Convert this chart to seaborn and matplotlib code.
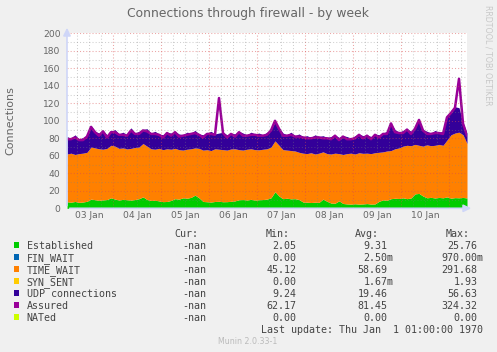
import numpy as np
import matplotlib
matplotlib.use("Agg")
import matplotlib.pyplot as plt
from matplotlib.patches import Rectangle, FancyArrowPatch
import seaborn as sns

# ---------------- data ----------------
# sample times: hours after 03 Jan 00:00 (one sample every 2 hours)
hours = np.arange(101) * 2 + 0.85

established = [7.5, 7, 7.8, 6.8, 7.2, 8, 10.5, 9.8, 9.2, 9.6,
               10, 12, 10.5, 9.5, 10.2, 9.8, 9.4, 10, 11, 13,
               10, 9, 9.2, 8.5, 7.6, 7.8, 9, 11, 10.5, 12,
               11.5, 12.5, 15, 12, 7.8, 7.5, 7.2, 7.8, 8, 7.5,
               7.6, 8, 8.5, 9.8, 10, 9.5, 10.2, 9.4, 9.8, 10,
               10.5, 12, 19, 14, 11, 11.5, 10.8, 11, 10, 7.2,
               7, 6.6, 7, 6.8, 10.5, 8, 6, 5.8, 8.5, 5.5,
               5, 4.8, 5.2, 4.8, 5, 5.4, 4.8, 5, 8, 9.6,
               9.2, 11, 11.5, 11.2, 12, 11, 11.8, 16.5, 17, 14,
               12, 12.5, 11.8, 12.4, 12, 13, 11.6, 12.2, 12, 12.4, 11.8]
fin_wait = [0.0] * 101
time_wait = [54.5, 56, 53.7, 55.7, 55.8, 56, 59.5, 59.2, 58.8, 57.9,
             58.5, 60, 60.5, 59, 58.8, 58, 59.1, 59.5, 59, 61,
             61, 59, 58.3, 60, 59.4, 60.2, 58.5, 57.5, 56.5, 54.5,
             56, 55.5, 54, 56.5, 58.7, 59.5, 58.8, 60.2, 59.5, 59.5,
             58.9, 59.8, 59.5, 57.2, 56.5, 58, 57.8, 57.6, 57, 57.5,
             57.5, 58, 58, 58, 56, 55, 55.2, 54.5, 54, 55.8,
             55.5, 56.9, 55, 56.2, 54, 54.5, 56, 57.2, 54, 56,
             57.5, 58.2, 56.8, 58.7, 57.8, 57.6, 57.7, 58.5, 56, 54.9,
             56.3, 55, 56.5, 57.8, 59, 61, 59.7, 56.5, 55, 57,
             60.5, 59, 60.2, 60.6, 60, 65, 72.4, 73.8, 75, 71.6, 62.2]
syn_sent = [0.0] * 101
udp = [20, 17, 22.5, 16.5, 18, 19, 25, 19, 18, 21.5,
       15.5, 16, 19, 16.5, 18, 16.2, 23.5, 16.5, 18, 16,
       20, 18, 20.5, 16.5, 17, 19, 18.5, 19.5, 18, 17.5,
       19.5, 18, 20, 16.5, 17.5, 19, 22, 17, 18.5, 20,
       17.5, 18.2, 17, 21, 19.5, 16.5, 19, 18, 19.2, 16.5,
       19, 20, 22, 20, 19, 17.5, 21, 17.5, 21, 19,
       20.5, 17.5, 22, 19, 18.5, 18.5, 20, 21, 18.5, 21.5,
       19.5, 17, 21, 21.5, 20.2, 21, 19.5, 21.5, 20, 21.5,
       22.5, 31, 22, 18, 18, 19, 16.5, 19, 29, 19,
       15.5, 14.5, 17, 14, 16, 26, 28, 30, 28, 14, 12]
assured = [79, 79, 81, 78, 78, 82, 93, 87, 83, 88,
           81, 87, 87, 84, 84, 83, 89, 85, 85, 89,
           88, 85, 85, 84, 81, 86, 83, 87, 82, 83,
           84, 85, 86, 84, 81, 85, 85, 84, 126, 86,
           81, 85, 82, 87, 83, 83, 84, 84, 83, 83,
           84, 89, 100, 91, 83, 83, 84, 82, 82, 81,
           80, 80, 81, 81, 80, 80, 79, 83, 78, 82,
           79, 79, 80, 84, 80, 83, 79, 84, 81, 85,
           85, 97, 87, 86, 86, 90, 85, 91, 101, 89,
           85, 85, 86, 86, 85, 104, 109, 115, 148, 97, 83]
nated = [0.0] * 101

day_labels = ["03 Jan", "04 Jan", "05 Jan", "06 Jan",
              "07 Jan", "08 Jan", "09 Jan", "10 Jan"]
y_ticks = [0, 20, 40, 60, 80, 100, 120, 140, 160, 180, 200]

names = ["Established", "FIN_WAIT", "TIME_WAIT", "SYN_SENT",
         "UDP connections", "Assured", "NATed"]
cur_vals = ["-nan", "-nan", "-nan", "-nan", "-nan", "-nan", "-nan"]
min_vals = ["2.05", "0.00", "45.12", "0.00", "9.24", "62.17", "0.00"]
avg_vals = ["9.31", "2.50m", "58.69", "1.67m", "19.46", "81.45", "0.00"]
max_vals = ["25.76", "970.00m", "291.68", "1.93", "56.63", "324.32", "0.00"]

colors = ["#00CC00", "#0066B3", "#FF8000", "#FFCC00",
          "#330099", "#990099", "#CCFF00"]

# ---------------- figure ----------------
sns.set_style("white")
plt.rcParams["font.family"] = ["DejaVu Sans"]

W, H = 497, 352
fig = plt.figure(figsize=(W / 100, H / 100), dpi=100, facecolor="#F0F0F0")


def fx(px):
    return px / W


def fy(py):
    return 1 - py / H


L, R, T, B = 67, 467, 33.3, 208.3
ax = fig.add_axes([fx(L), fy(B), (R - L) / W, (B - T) / H])
ax.set_facecolor("white")

ax.stackplot(hours, established, fin_wait, time_wait, syn_sent, udp,
             colors=colors[:5], linewidth=0, zorder=2)
sns.lineplot(x=hours, y=assured, color=colors[5], linewidth=1.8, ax=ax,
             zorder=3)
sns.lineplot(x=hours, y=nated, color=colors[6], linewidth=0.72, ax=ax,
             zorder=3)

ax.set_xlim(0.85, 200.85)
ax.set_ylim(0, 200)

# grid (drawn over the data, like rrdtool)
minor_c = (0.5, 0.5, 0.5, 0.37)
major_c = (0.85, 0.3, 0.3, 0.5)
dots = (0, (1, 2))
for h in range(6, 201, 6):
    c = major_c if h % 24 == 0 else minor_c
    ax.axvline(h, color=c, lw=0.75, ls=dots, zorder=5)
for v in range(10, 201, 10):
    c = major_c if v % 20 == 0 else minor_c
    ax.axhline(v, color=c, lw=0.75, ls=dots, zorder=5)

for s in ax.spines.values():
    s.set_visible(False)

ax.set_yticks(y_ticks)
ax.set_yticklabels([str(v) for v in y_ticks])
ax.set_xticks([12 + 24 * k for k in range(len(day_labels))])
ax.set_xticklabels(day_labels)
ax.tick_params(axis="y", length=0, pad=4.7, labelsize=6.6,
               labelcolor="#666666")
ax.tick_params(axis="x", length=0, pad=2.0, labelsize=6.6,
               labelcolor="#666666")
ax.set_xlabel("")
ax.set_ylabel("")

# axes with arrows
arrow_c = "#CFD6F8"
astyle = "-|>,head_length=0.45,head_width=0.22"
fig.add_artist(FancyArrowPatch(
    (fx(L), fy(B)), (fx(474), fy(B)), transform=fig.transFigure,
    arrowstyle=astyle, color=arrow_c, lw=1.2, mutation_scale=10))
fig.add_artist(FancyArrowPatch(
    (fx(L), fy(B)), (fx(L), fy(25)), transform=fig.transFigure,
    arrowstyle=astyle, color=arrow_c, lw=1.2, mutation_scale=10))

# titles
fig.text(fx(248), fy(13.5), "Connections through firewall - by week",
         ha="center", va="center", fontsize=8.9, color="#666666")
fig.text(fx(10), fy(120.5), "Connections", rotation=90, ha="center",
         va="center", fontsize=8, color="#666666")
fig.text(fx(488), fy(5), "RRDTOOL / TOBI OETIKER", rotation=270,
         ha="center", va="top", fontsize=5.7, color="#C8C8C8")

# legend table
mono = "DejaVu Sans Mono"
lfs = 7.2
tc = "#444444"
base0 = 236.8
step = 12.07
fig.text(fx(198.3), fy(base0), "Cur:", ha="right", va="baseline",
         family=mono, fontsize=lfs, color=tc)
fig.text(fx(289.3), fy(base0), "Min:", ha="right", va="baseline",
         family=mono, fontsize=lfs, color=tc)
fig.text(fx(379.3), fy(base0), "Avg:", ha="right", va="baseline",
         family=mono, fontsize=lfs, color=tc)
fig.text(fx(469.3), fy(base0), "Max:", ha="right", va="baseline",
         family=mono, fontsize=lfs, color=tc)

for k, name in enumerate(names):
    yb = base0 + step * (k + 1)
    fig.patches.append(Rectangle((fx(13.5), fy(yb - 1.2)), 5.8 / W, 5.8 / H,
                                 transform=fig.transFigure,
                                 facecolor=colors[k], edgecolor="none"))
    fig.text(fx(26.7), fy(yb), name, ha="left", va="baseline",
             family=mono, fontsize=lfs, color=tc)
    fig.text(fx(206), fy(yb), cur_vals[k], ha="right", va="baseline",
             family=mono, fontsize=lfs, color=tc)
    fig.text(fx(296.7), fy(yb), min_vals[k], ha="right", va="baseline",
             family=mono, fontsize=lfs, color=tc)
    a = avg_vals[k]
    fig.text(fx(387.3 + (6 if a.endswith("m") else 0)), fy(yb), a,
             ha="right", va="baseline", family=mono, fontsize=lfs, color=tc)
    m = max_vals[k]
    fig.text(fx(477.3 + (6 if m.endswith("m") else 0)), fy(yb), m,
             ha="right", va="baseline", family=mono, fontsize=lfs, color=tc)

fig.text(fx(483.3), fy(base0 + step * 8), "Last update: Thu Jan  1 01:00:00 1970",
         ha="right", va="baseline", family=mono, fontsize=lfs, color=tc)
fig.text(fx(248), fy(344), "Munin 2.0.33-1", ha="center", va="baseline",
         fontsize=5.7, color="#BBBBBB")

fig.savefig("out.png", dpi=100, facecolor=fig.get_facecolor())
